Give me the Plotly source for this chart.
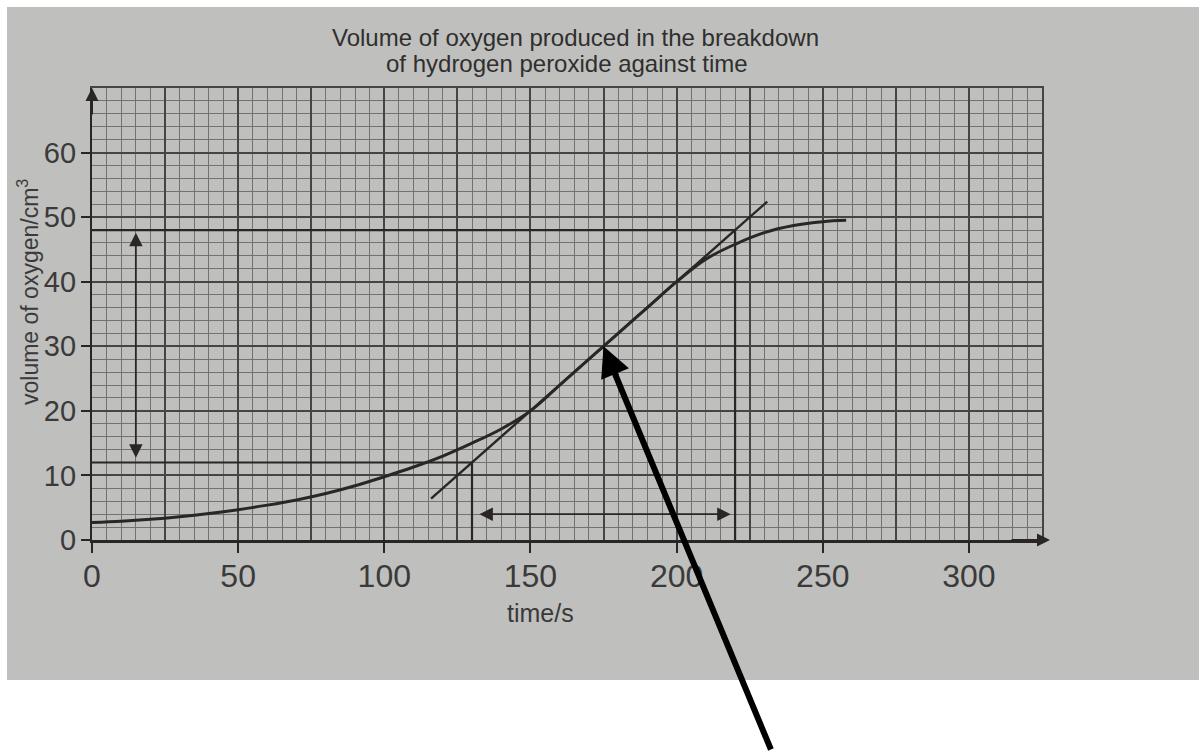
import plotly.graph_objects as go

# ---- data ----
time_s = [0, 10, 20, 30, 40, 50, 60, 70, 80, 90, 100, 110, 120, 130, 140, 150,
          160, 170, 175, 180, 190, 200, 210, 220, 230, 240, 250, 258]
volume_cm3 = [2.7, 2.9, 3.2, 3.6, 4.1, 4.7, 5.4, 6.2, 7.2, 8.4, 9.8, 11.3, 13.0, 15.0,
              17.2, 20.0, 24.0, 28.0, 30.0, 32.0, 36.0, 40.0, 43.5, 45.8, 47.6, 48.7, 49.3, 49.5]

tangent_t = [116, 231]
tangent_v = [6.4, 52.4]

t_low, t_high = 130, 220
v_low, v_high = 12, 48
tangent_point = (175, 30)
vert_arrow_t = 15
horiz_arrow_v = 4

x_ticks = [0, 50, 100, 150, 200, 250, 300]
y_ticks = [0, 10, 20, 30, 40, 50, 60]

title_lines = ["Volume of oxygen produced in the breakdown",
               "of hydrogen peroxide against time"]

X_RANGE = [0, 325]
Y_RANGE = [0, 70]

INK = "#2b2626"
TXT = "#3a3a3a"
FONT = "Liberation Sans"

fig = go.Figure()

# invisible helper trace for the overlay (major grid) axes
fig.add_trace(go.Scatter(x=time_s, y=volume_cm3, xaxis="x2", yaxis="y2",
                         mode="lines", line=dict(width=0), opacity=0,
                         showlegend=False, hoverinfo="skip"))

# construction lines
fig.add_trace(go.Scatter(x=[0, t_high, t_high], y=[v_high, v_high, 0], mode="lines",
                         line=dict(color=INK, width=2.2), showlegend=False, hoverinfo="skip"))
fig.add_trace(go.Scatter(x=[0, t_low, t_low], y=[v_low, v_low, 0], mode="lines",
                         line=dict(color=INK, width=2.2), showlegend=False, hoverinfo="skip"))
# tangent
fig.add_trace(go.Scatter(x=tangent_t, y=tangent_v, mode="lines",
                         line=dict(color=INK, width=2.4), showlegend=False, hoverinfo="skip"))
# curve
fig.add_trace(go.Scatter(x=time_s, y=volume_cm3, mode="lines", line_shape="spline",
                         line=dict(color=INK, width=3), showlegend=False))

L, T, W, H = 92, 88, 950, 452

def px_x(p):
    return (p - L) / W

def px_y(p):
    return (T + H - p) / H

shapes = [
    dict(type="rect", xref="paper", yref="paper", layer="below",
         x0=px_x(7), x1=px_x(1199), y0=px_y(680), y1=px_y(7),
         fillcolor="#bfbfbd", line=dict(width=0)),
]

def text_ann(text, x_px, y_px, size, color=TXT, angle=0):
    return dict(x=px_x(x_px), y=px_y(y_px), xref="paper", yref="paper",
                xanchor="center", yanchor="middle", text=text, textangle=angle,
                showarrow=False, font=dict(family=FONT, size=size, color=color))

annotations = [
    # y axis arrow
    dict(x=0, y=Y_RANGE[1], xref="x", yref="y", ax=0, ay=28, showarrow=True,
         arrowhead=2, arrowsize=1.3, arrowwidth=2, arrowcolor=INK, text=""),
    # x axis arrow
    dict(x=px_x(1050), y=0, xref="paper", yref="y", ax=-40, ay=0, showarrow=True,
         arrowhead=2, arrowsize=1.3, arrowwidth=2, arrowcolor=INK, text=""),
    # vertical double arrow
    dict(x=vert_arrow_t, y=v_high - 0.4, xref="x", yref="y",
         axref="x", ayref="y", ax=vert_arrow_t, ay=v_low + 0.5,
         showarrow=True, arrowhead=2, arrowside="end+start", arrowsize=1.5,
         arrowwidth=1.8, arrowcolor=INK, text=""),
    # horizontal double arrow
    dict(x=t_high - 1.5, y=horiz_arrow_v, xref="x", yref="y",
         axref="x", ayref="y", ax=t_low + 2, ay=horiz_arrow_v,
         showarrow=True, arrowhead=2, arrowside="end+start", arrowsize=1.5,
         arrowwidth=1.8, arrowcolor=INK, text=""),
    # big black pointer
    dict(x=tangent_point[0], y=tangent_point[1], xref="x", yref="y",
         ax=168, ay=405, showarrow=True, arrowhead=2, arrowsize=1.0,
         arrowwidth=6, arrowcolor="#000000", text=""),
    # title lines
    text_ann(title_lines[0], 575, 38, 24, "#2f2f2f"),
    text_ann(title_lines[1], 567, 63, 24, "#2f2f2f"),
    # axis titles
    text_ann("time/s", 540, 613, 25),
    text_ann("volume of oxygen/cm<sup>3</sup>", 28, 292, 23, angle=-90),
]

fig.update_layout(
    width=1199, height=751,
    margin=dict(l=L, r=1199 - L - W, t=T, b=751 - T - H),
    paper_bgcolor="white", plot_bgcolor="rgba(0,0,0,0)",
    shapes=shapes, annotations=annotations,
    xaxis=dict(range=X_RANGE, tickvals=x_ticks, showgrid=False, zeroline=False,
               showline=True, linecolor=INK, linewidth=2.5,
               ticks="outside", ticklen=10, tickwidth=1.5, tickcolor=INK,
               ticklabelstandoff=-4,
               tickfont=dict(family=FONT, size=32, color=TXT),
               minor=dict(dtick=5, tick0=0, showgrid=True, gridcolor="#727271",
                          gridwidth=1, ticks=""),
               fixedrange=True),
    yaxis=dict(range=Y_RANGE, tickvals=y_ticks, showgrid=False, zeroline=False,
               showline=True, linecolor=INK, linewidth=2.2,
               ticks="outside", ticklen=9, tickwidth=1.5, tickcolor=INK,
               ticklabelstandoff=-1,
               tickfont=dict(family=FONT, size=29, color=TXT),
               minor=dict(dtick=2, tick0=0, showgrid=True, gridcolor="#727271",
                          gridwidth=1, ticks=""),
               fixedrange=True),
    xaxis2=dict(range=X_RANGE, overlaying="x", anchor="y2", side="top", dtick=25, tick0=0,
                showgrid=True, gridcolor="#454545", gridwidth=1.6,
                showticklabels=False, ticks="", zeroline=False,
                showline=True, linecolor="#454545", linewidth=1.5, fixedrange=True),
    yaxis2=dict(range=Y_RANGE, overlaying="y", anchor="x2", side="right", dtick=10, tick0=0,
                showgrid=True, gridcolor="#454545", gridwidth=1.6,
                showticklabels=False, ticks="", zeroline=False,
                showline=True, linecolor="#454545", linewidth=1.5, fixedrange=True),
)

fig.write_html("out.html", config={"displayModeBar": False},
               post_script="document.body.style.margin='0px';")
